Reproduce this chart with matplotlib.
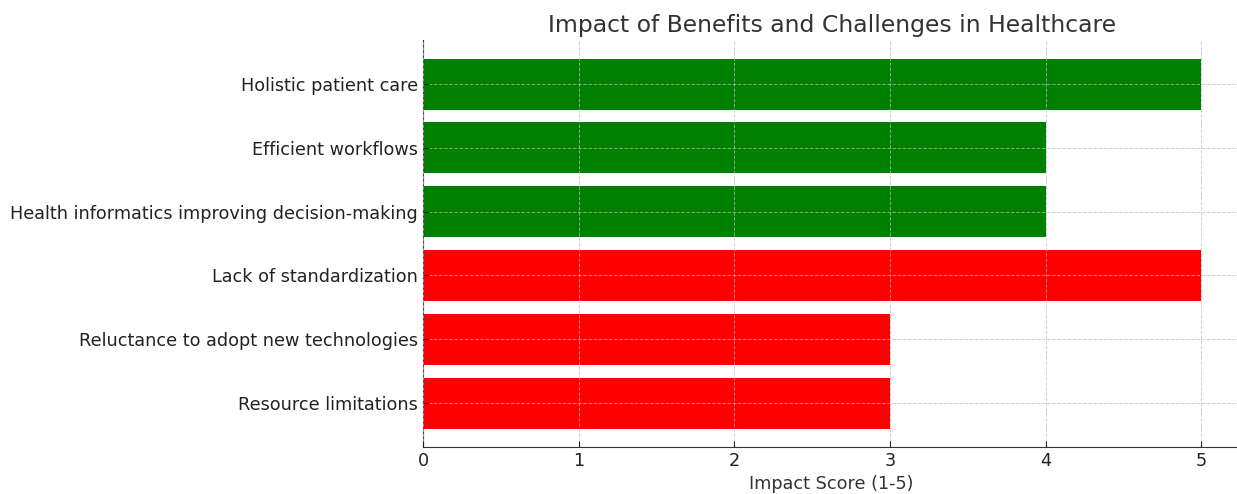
import matplotlib.pyplot as plt

plt.rcParams["font.family"] = ["DejaVu Sans"]

# data, top to bottom as shown
labels = [
    "Holistic patient care",
    "Efficient workflows",
    "Health informatics improving decision-making",
    "Lack of standardization",
    "Reluctance to adopt new technologies",
    "Resource limitations",
]
scores = [5, 4, 4, 5, 3, 3]
colors = ["green", "green", "green", "red", "red", "red"]

txt = "#333333"

fig = plt.figure(figsize=(12.37, 4.94), dpi=100)
ax = fig.add_axes([0.342, 0.095, 0.6605, 0.824])

ax.barh(labels, scores, color=colors, height=0.8, zorder=1)
ax.invert_yaxis()

ax.set_title("Impact of Benefits and Challenges in Healthcare", fontsize=16.9, color=txt)
ax.set_xlabel("Impact Score (1-5)", fontsize=12.7, color=txt)
ax.tick_params(axis="both", labelsize=12.7, colors="#222222", direction="in", length=4)

ax.grid(True, linestyle="--", color="#bbbbbb", linewidth=0.7, alpha=0.7, zorder=2)
ax.set_axisbelow(False)

for s in ["top", "right"]:
    ax.spines[s].set_visible(False)
for s in ["left", "bottom"]:
    ax.spines[s].set_color(txt)

fig.savefig("out.png", dpi=100)
